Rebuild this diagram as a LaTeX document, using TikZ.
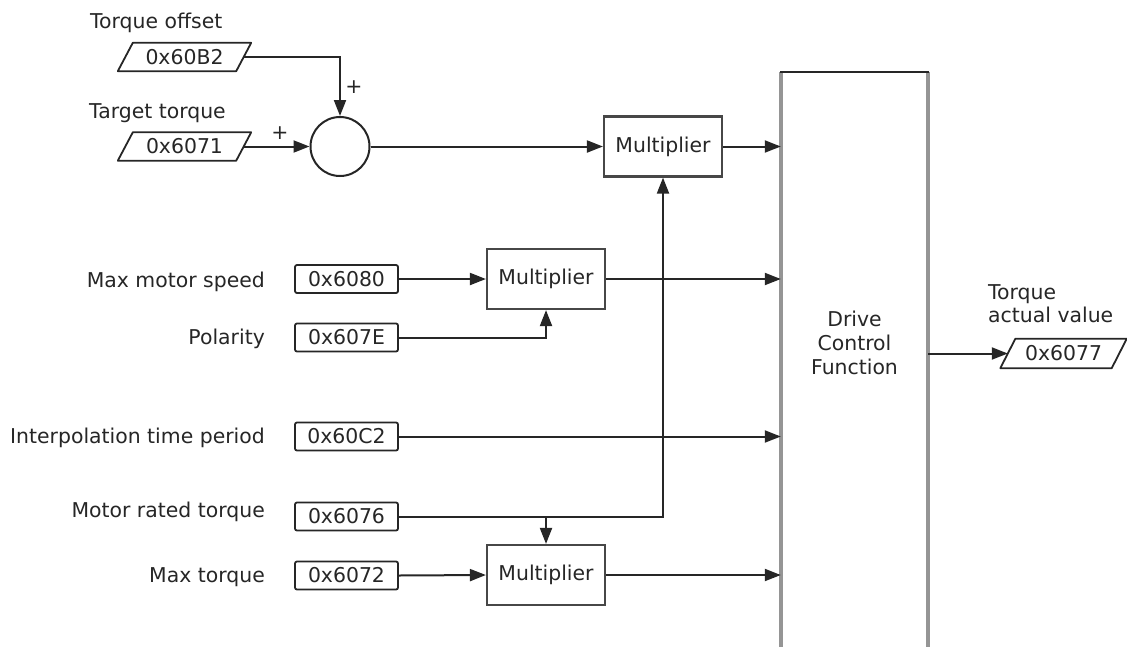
\documentclass[tikz,border=0pt]{standalone}
\usepackage{fontspec}
\setmainfont{DejaVu Sans}
\usetikzlibrary{arrows.meta,calc}
\definecolor{ink}{HTML}{262626}
\definecolor{side}{HTML}{959595}
\begin{document}
\begin{tikzpicture}[x=1pt,y=-1pt,
  font=\fontsize{20.4}{24}\selectfont, text=ink,
  line/.style={draw=ink, line width=2pt},
  arr/.style={line, -{Triangle[length=16pt,width=12pt]}},
  hexbox/.style={draw=ink, line width=1.8pt, rounded corners=2pt, minimum width=103pt, minimum height=28pt, inner sep=0pt},
  pgram/.style={minimum width=118pt, minimum height=28pt, inner sep=0pt},
  pgline/.style={draw=ink, line width=1.8pt, line join=round},
  mult/.style={draw=ink!85, line width=2.2pt, minimum width=118pt, minimum height=60pt, inner sep=0pt},
  lbl/.style={anchor=base east, inner sep=0pt},
  lbll/.style={anchor=base west, inner sep=0pt},
]
\useasboundingbox (0,0) rectangle (1127,646);

% labels
\node[lbll] (tofs) at (90,28) {Torque offset};
\node[lbll] (ttgt) at (89,118) {Target torque};
\node[lbl] (tmms) at (265,287) {Max motor speed};
\node[lbl] (tpol) at (265,344) {Polarity};
\node[lbl] (tint) at (265,443) {Interpolation time period};
\node[lbl] (tmrt) at (265,517) {Motor rated torque};
\node[lbl] (tmt) at (265,582) {Max torque};
\node[anchor=west, align=left, inner sep=0pt, font=\fontsize{20.4}{23}\selectfont] (tact) at (988,303.5) {Torque\\actual value};

% parallelogram objects
\node[pgram] (ofs) at (184.5,57) {0x60B2};
\draw[pgline] ($(ofs.north west)+(7.5,0)$) -- ($(ofs.north east)+(7.5,0)$) -- ($(ofs.south east)+(-7.5,0)$) -- ($(ofs.south west)+(-7.5,0)$) -- cycle;
\node[pgram] (tgt) at (184.5,146.5) {0x6071};
\draw[pgline] ($(tgt.north west)+(7.5,0)$) -- ($(tgt.north east)+(7.5,0)$) -- ($(tgt.south east)+(-7.5,0)$) -- ($(tgt.south west)+(-7.5,0)$) -- cycle;
\node[pgram, minimum width=111pt, minimum height=29pt] (out) at (1063.5,353.5) {0x6077};
\draw[pgline] ($(out.north west)+(7.5,0)$) -- ($(out.north east)+(7.5,0)$) -- ($(out.south east)+(-7.5,0)$) -- ($(out.south west)+(-7.5,0)$) -- cycle;

% summing junction
\node[circle, draw=ink, line width=2pt, minimum size=59pt, inner sep=0pt] (sum) at (340,146.5) {};
\node[inner sep=0pt] (p1) at (354,87) {+};
\node[inner sep=0pt] (p2) at (280,133) {+};

% object boxes
\node[hexbox] (b6080) at (346.5,279) {0x6080};
\node[hexbox] (b607E) at (346.5,337.5) {0x607E};
\node[hexbox] (b60C2) at (346.5,436.5) {0x60C2};
\node[hexbox] (b6076) at (346.5,516.5) {0x6076};
\node[hexbox] (b6072) at (346.5,575.5) {0x6072};

% multipliers
\node[mult] (m1) at (663,146.5) {Multiplier};
\node[mult] (m2) at (546,279) {Multiplier};
\node[mult] (m3) at (546,575) {Multiplier};

% drive control function
\node[minimum width=147pt, inner sep=0pt, align=center] (dcf) at (854.5,343) {Drive\\Control\\Function};
\coordinate (dtl) at (781,72);
\coordinate (dtr) at (928,72);
\coordinate (dbl) at (781,648);
\coordinate (dbr) at (928,648);
\draw[draw=side, line width=3.4pt] (dtl) -- (dbl);
\draw[draw=side, line width=3.4pt] (dtr) -- (dbr);
\draw[draw=ink, line width=2.4pt, line cap=rect] (dtl) -- (dtr);

% connectors
\draw[arr] (ofs.east) -| (sum.north);
\draw[arr] (tgt.east) -- (sum.west);
\draw[arr] (sum.east) -- (m1.west);
\draw[arr] (m1.east) -- (m1.east -| dcf.west);
\draw[arr] (b6080.east) -- (m2.west);
\draw[arr] (m2.east) -- (m2.east -| dcf.west);
\draw[arr] (b607E.east) -| (m2.south);
\draw[arr] (b60C2.east) -- (b60C2.east -| dcf.west);
\draw[arr] (b6076.east) -| (m1.south);
\coordinate (br) at (b6076.east -| m3.north);
\draw[arr] (br) -- (m3.north);
\draw[arr] (b6072.east) -- (m3.west);
\draw[arr] (m3.east) -- (m3.east -| dcf.west);
\draw[arr] (out.west -| dcf.east) -- (out.west);
\end{tikzpicture}
\end{document}
